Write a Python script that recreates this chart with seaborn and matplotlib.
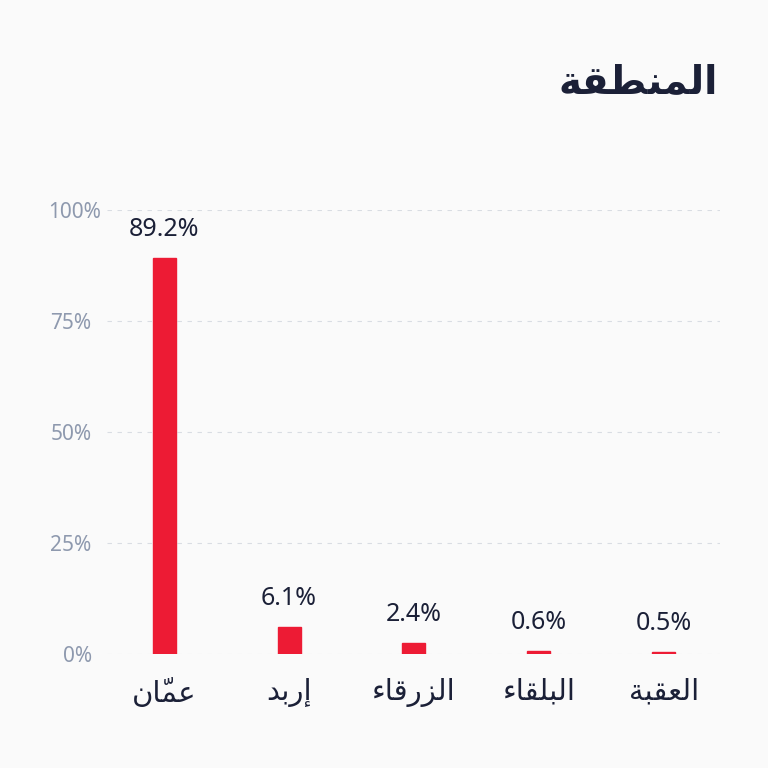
import matplotlib
matplotlib.use("Agg")
import matplotlib.pyplot as plt
import matplotlib.transforms as mtransforms
import seaborn as sns
import pandas as pd

# ---- data ----
title = "المنطقة"
categories = ["عمّان", "إربد", "الزرقاء", "البلقاء", "العقبة"]
values = [89.2, 6.1, 2.4, 0.6, 0.5]
value_labels = ["89.2%", "6.1%", "2.4%", "0.6%", "0.5%"]
y_ticks = [0, 25, 50, 75, 100]
y_tick_labels = ["0%", "25%", "50%", "75%", "100%"]

# ---- minimal Arabic shaping (presentation forms + visual order) ----
FORMS = {  # isolated, final, initial, medial
    "\u0621": ("\uFE80", None, None, None),
    "\u0625": ("\uFE87", "\uFE88", None, None),
    "\u0627": ("\uFE8D", "\uFE8E", None, None),
    "\u0628": ("\uFE8F", "\uFE90", "\uFE91", "\uFE92"),
    "\u0629": ("\uFE93", "\uFE94", None, None),
    "\u062F": ("\uFEA9", "\uFEAA", None, None),
    "\u0631": ("\uFEAD", "\uFEAE", None, None),
    "\u0632": ("\uFEAF", "\uFEB0", None, None),
    "\u0637": ("\uFEC1", "\uFEC2", "\uFEC3", "\uFEC4"),
    "\u0639": ("\uFEC9", "\uFECA", "\uFECB", "\uFECC"),
    "\u0642": ("\uFED5", "\uFED6", "\uFED7", "\uFED8"),
    "\u0644": ("\uFEDD", "\uFEDE", "\uFEDF", "\uFEE0"),
    "\u0645": ("\uFEE1", "\uFEE2", "\uFEE3", "\uFEE4"),
    "\u0646": ("\uFEE5", "\uFEE6", "\uFEE7", "\uFEE8"),
}
MARKS = {"\u0651"}


def shape(text):
    clusters = []
    for ch in text:
        if ch in MARKS and clusters:
            clusters[-1][1].append(ch)
        else:
            clusters.append([ch, []])
    bases = [c[0] for c in clusters]

    def dual(c):
        f = FORMS.get(c)
        return f is not None and f[2] is not None

    def joins(c):
        f = FORMS.get(c)
        return f is not None and f[1] is not None

    out = []
    for i, b in enumerate(bases):
        f = FORMS.get(b)
        if f is None:
            out.append(b)
            continue
        prev_j = i > 0 and dual(bases[i - 1]) and joins(b)
        next_j = i < len(bases) - 1 and dual(b) and joins(bases[i + 1])
        if prev_j and next_j:
            g = f[3]
        elif prev_j:
            g = f[1]
        elif next_j:
            g = f[2]
        else:
            g = f[0]
        out.append(g)
    # zero-width marks are drawn from the pen position onward, so they go
    # before their base glyph in left-to-right drawing order
    visual = ["".join(clusters[i][1]) + out[i] for i in range(len(out))]
    return "".join(reversed(visual))


sns.set_theme(style="white")
plt.rcParams["font.family"] = ["Noto Sans", "DejaVu Sans"]

BG = "#FAFAFA"
RED = "#ED1B34"
NAVY = "#1B2037"
GREY = "#8E99AE"

df = pd.DataFrame({"region": [shape(c) for c in categories], "value": values})

fig = plt.figure(figsize=(7.68, 7.68), dpi=100, facecolor=BG)
ax = fig.add_axes([107 / 768, 1 - 654 / 768, 613 / 768, 444 / 768])
ax.set_facecolor(BG)

sns.barplot(data=df, x="region", y="value", color=RED, width=0.184,
            saturation=1, ax=ax, zorder=3, edgecolor=RED, linewidth=1.0)

ax.set_xlim(-0.456, 4.448)
ax.set_ylim(0, 100)
ax.set_yticks(y_ticks)
ax.set_yticklabels(y_tick_labels)
ax.set_xlabel("")
ax.set_ylabel("")
for s in ax.spines.values():
    s.set_visible(False)
ax.tick_params(axis="y", length=0, pad=11, labelsize=15, labelcolor=GREY)
ax.tick_params(axis="x", length=0, pad=17, labelsize=21, labelcolor=NAVY)
for lab in ax.get_xticklabels():
    lab.set_family(["DejaVu Sans"])
ax.yaxis.grid(True, linestyle=(0, (4, 5)), color="#D9DDE3", linewidth=0.8, zorder=0)
ax.xaxis.grid(False)
ax.set_axisbelow(True)

# the 100% label sits slightly further right in the reference
top_lab = ax.get_yticklabels()[-1]
top_lab.set_transform(top_lab.get_transform() +
                      mtransforms.ScaledTranslation(9 / 100, 0, fig.dpi_scale_trans))

for i, (v, lab) in enumerate(zip(values, value_labels)):
    ax.annotate(lab, (i, v), xytext=(0, 16), textcoords="offset points",
                ha="center", va="baseline", fontsize=18, color=NAVY,
                annotation_clip=False)

fig.text(718 / 768, 1 - 82 / 768, shape(title), ha="right", va="center",
         fontsize=28, fontweight="bold", color=NAVY, family=["DejaVu Sans"])

fig.savefig("out.png", dpi=100, facecolor=BG)
